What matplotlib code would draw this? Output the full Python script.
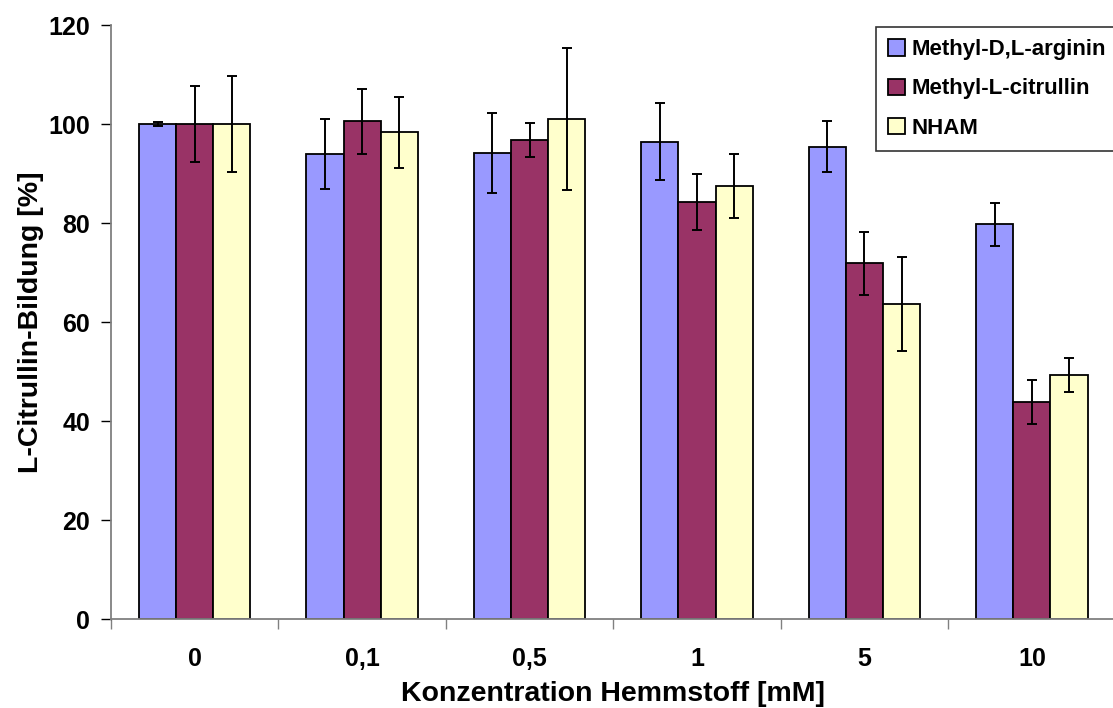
import numpy as np
import matplotlib
matplotlib.use("Agg")
import matplotlib.pyplot as plt

plt.rcParams['font.family'] = ['Liberation Sans', 'DejaVu Sans']
plt.rcParams['font.weight'] = 'bold'

# data
categories = ["0", "0,1", "0,5", "1", "5", "10"]
series_names = ["Methyl-D,L-arginin", "Methyl-L-citrullin", "NHAM"]
arginin = [100.0, 94.0, 94.2, 96.5, 95.5, 79.8]
arginin_err = [0.4, 7.0, 8.0, 7.8, 5.2, 4.3]
citrullin = [100.0, 100.6, 96.8, 84.3, 71.9, 43.9]
citrullin_err = [7.7, 6.6, 3.5, 5.6, 6.3, 4.4]
nham = [100.0, 98.4, 101.1, 87.5, 63.6, 49.3]
nham_err = [9.7, 7.2, 14.4, 6.4, 9.5, 3.4]

colors = ['#9999FF', '#993366', '#FFFFCC']

fig = plt.figure(figsize=(11.13, 7.08), dpi=100)
ax = fig.add_axes([0.0997, 0.1253, 0.9026, 0.839])

x = np.arange(len(categories))
w = 0.222
for i, (vals, errs) in enumerate([(arginin, arginin_err),
                                  (citrullin, citrullin_err),
                                  (nham, nham_err)]):
    ax.bar(x + (i - 1) * w, vals, width=w, color=colors[i],
           edgecolor='black', linewidth=1.3, label=series_names[i],
           yerr=errs, capsize=3.3,
           error_kw=dict(ecolor='black', elinewidth=1.4, capthick=1.4))

ax.set_xlim(-0.5, len(categories) - 0.5)
ax.set_ylim(0, 120)
ax.set_yticks(range(0, 121, 20))

# tick marks between groups, labels at group centres
ax.set_xticks(np.arange(-0.5, len(categories), 1.0))
ax.set_xticklabels([])
ax.set_xticks(x, minor=True)
ax.set_xticklabels(categories, minor=True)
ax.tick_params(axis='x', which='minor', length=0, pad=20, labelsize=18)
ax.tick_params(axis='x', which='major', length=7, width=1, color='#808080')
ax.tick_params(axis='y', length=7, width=1, labelsize=18, pad=8)

for side in ['top', 'right']:
    ax.spines[side].set_visible(False)
for side in ['left', 'bottom']:
    ax.spines[side].set_color('#808080')
    ax.spines[side].set_linewidth(1.3)

ax.set_xlabel("Konzentration Hemmstoff [mM]", fontsize=20.5, fontweight='bold',
              labelpad=7)
ax.set_ylabel("L-Citrullin-Bildung [%]", fontsize=20.5, fontweight='bold',
              labelpad=3)

leg = ax.legend(loc='upper left', bbox_to_anchor=(876 / 1113, 1 - 27 / 708),
                bbox_transform=fig.transFigure, fontsize=16, frameon=True,
                fancybox=False, edgecolor='black', handlelength=0.75,
                handleheight=0.75, handletextpad=0.3, labelspacing=0.82,
                borderpad=0.55, borderaxespad=0)
leg.get_frame().set_linewidth(1.2)
for t in leg.get_texts():
    t.set_fontweight('bold')

fig.savefig("out.png", dpi=100)
